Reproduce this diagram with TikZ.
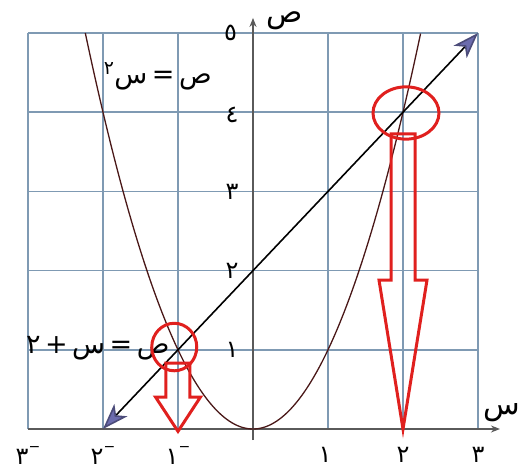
\documentclass[tikz,border=0pt]{standalone}
\usepackage{fontspec}
\usetikzlibrary{arrows.meta}
\newfontfamily\arabicfont[Script=Arabic]{DejaVu Sans}
\TeXXeTstate=1
\definecolor{gridc}{HTML}{7F9AB3}
\definecolor{axisc}{HTML}{5A5A5A}
\definecolor{parac}{HTML}{4A1818}
\definecolor{tipc}{HTML}{6C6CAE}
\definecolor{redc}{HTML}{E0201E}
\tikzset{
  gridline/.style={draw=gridc, line width=1.7pt},
  axisline/.style={draw=axisc, line width=1.3pt},
  lbl/.style={font=\fontsize{24}{26}\selectfont\arabicfont, inner sep=0pt},
  eqlbl/.style={font=\fontsize{27}{29}\selectfont\arabicfont, inner sep=0pt},
  axlbl/.style={font=\fontsize{30}{32}\selectfont\arabicfont, inner sep=0pt},
  hollow/.style={draw=redc, line width=3pt, line join=miter},
  ring/.style={draw=redc, line width=3pt},
  bluetip/.tip={Stealth[length=26pt,width=18pt,inset=7pt,fill=tipc,color=tipc!70!black]},
}
\newcommand{\negmark}{\raisebox{1.0ex}{\fontsize{14}{14}\selectfont −}}
\begin{document}
\begin{tikzpicture}[x=75pt, y=79.2pt]
\useasboundingbox (-3.3733,-0.5303) rectangle (3.5733,5.4167);
% grid
\foreach \i in {-3,-2,-1,1,2,3} \draw[gridline] (\i,0) -- (\i,5);
\foreach \j in {1,...,5} \draw[gridline] (-3,\j) -- (3,\j);
% axes
\coordinate (xs) at (-3,0);
\coordinate (xe) at (3.293,0);
\coordinate (ys) at (0,-0.14);
\coordinate (ye) at (0,5.19);
\draw[axisline, -{Stealth[length=9pt,width=7pt]}] (xs) -- (xe);
\draw[axisline, -{Stealth[length=9pt,width=7pt]}] (ys) -- (ye);
\node[axlbl] (ylab) at (0.42,5.15) {ص};
\node[axlbl] (xlab) at (3.32,0.2) {س};
% y tick labels
\node[lbl] (y1) at (-0.28,1) {١};
\node[lbl] (y2) at (-0.28,2) {٢};
\node[lbl] (y3) at (-0.28,3) {٣};
\node[lbl] (y4) at (-0.28,3.97) {٤};
\node[lbl] (y5) at (-0.30,5.0) {٥};
% x tick labels
\node[lbl] (xm3) at (-3,-0.33) {٣\negmark};
\node[lbl] (xm2) at (-2,-0.33) {٢\negmark};
\node[lbl] (xm1) at (-1,-0.33) {١\negmark};
\node[lbl] (xp1) at (0.96,-0.33) {١};
\node[lbl] (xp2) at (2,-0.33) {٢};
\node[lbl] (xp3) at (3,-0.33) {٣};
% parabola
\draw[parac, line width=1.3pt, domain=-2.236:2.236, samples=120, smooth] plot (\x,{\x*\x});
% line y = x + 2
\coordinate (L1) at (-2,0);
\coordinate (L2) at (3,5);
\draw[black, line width=1.6pt, bluetip-bluetip] (L1) -- (L2);
% equation labels
\node[eqlbl] (eq1) at (-1.27,4.45) {\beginR ص\,=\,س\textsuperscript{٢}\endR};
\node[eqlbl] (eq2) at (-2.07,1.02) {\beginR ص\,=\,س\,+\,٢\endR};
% red rings
\draw[ring] (2.04,3.99) ellipse [x radius=0.44, y radius=0.33];
\draw[ring] (-1.05,1.035) ellipse [x radius=0.30, y radius=0.30];
% hollow arrows
\draw[hollow] (1.84,3.725) -- (2.16,3.725) -- (2.16,1.88) -- (2.32,1.88) -- (2,0) -- (1.68,1.88) -- (1.84,1.88) -- cycle;
\draw[hollow] (-1.16,0.833) -- (-0.84,0.833) -- (-0.84,0.404) -- (-0.7,0.404) -- (-1,-0.03) -- (-1.3,0.404) -- (-1.16,0.404) -- cycle;
\end{tikzpicture}
\end{document}
